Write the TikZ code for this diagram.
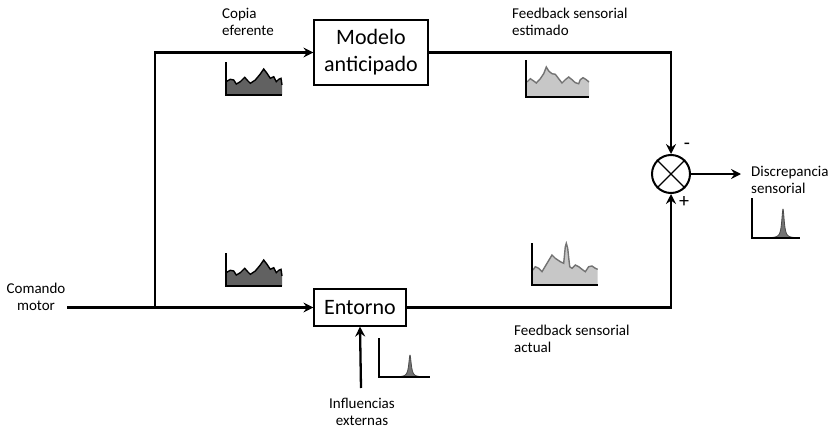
\documentclass[tikz,border=0pt]{standalone}
\usepackage{fontspec}
\setmainfont{Carlito}
\usetikzlibrary{arrows.meta}

\tikzset{
  flow/.style={line width=2.3pt, draw=black, line join=miter},
  arr/.style={flow, -{Stealth[length=10pt,width=10pt,inset=3.5pt]}},
  block/.style={draw=black, line width=1.2pt, align=center, inner sep=0pt,
                font=\fontsize{22}{27}\selectfont},
  lbl/.style={inner sep=0pt, font=\fontsize{15}{17}\selectfont},
  axisline/.style={line width=1.8pt, draw=black},
  darksig/.style={fill=black!62},
  darkedge/.style={line width=1.4pt, draw=black},
  lightsig/.style={fill=black!22},
  lightedge/.style={line width=1.4pt, draw=black!55},
  spikefill/.style={fill=black!55},
  spikeedge/.style={line width=0.8pt, draw=black!70},
  sign/.style={inner sep=0pt, font=\fontsize{20}{20}\selectfont},
}

\begin{document}
\begin{tikzpicture}[x=1pt,y=-1pt]
\useasboundingbox (0,0) rectangle (831,431);

% blocks and summing junction
\node[block, minimum width=114pt, minimum height=65pt] (modelo) at (371,52.5) {Modelo\\anticipado};
\node[block, minimum width=92pt, minimum height=37pt] (entorno) at (360,307.5) {Entorno};
\node[circle, draw=black, line width=2pt, minimum size=38pt, inner sep=0pt] (sum) at (671,174) {};
\draw[line width=1.4pt] (sum.north west) -- (sum.south east);
\draw[line width=1.4pt] (sum.north east) -- (sum.south west);

% free ends of the connectors
\coordinate (cmd) at (67,307.5);
\coordinate (split) at (155,307.5);
\coordinate (outend) at (741,174);
\coordinate (infl) at (361,388);

% signal flow
\draw[flow] (cmd) -- (split);
\draw[arr] (split) -- (entorno.west);
\draw[arr] (split) |- (modelo.west);
\draw[arr] (modelo.east) -| (sum.north);
\draw[arr] (entorno.east) -| (sum.south);
\draw[arr] (sum.east) -- (outend);
\draw[arr] (infl) -- (entorno.south);

% signs at the junction
\node[sign] (minus) at (687,146) {-};
\node[sign] (plus) at (684,202) {+};

% labels
\node[lbl, anchor=base west] (copia) at (222,19)
  {\begin{tabular}[t]{@{}l@{}}Copia\\eferente\end{tabular}};
\node[lbl, anchor=base west] (fbest) at (512,19)
  {\begin{tabular}[t]{@{}l@{}}Feedback sensorial\\estimado\end{tabular}};
\node[lbl, anchor=base] (comando) at (36,293)
  {\begin{tabular}[t]{@{}c@{}}Comando\\motor\end{tabular}};
\node[lbl, anchor=base west] (fbact) at (514,335)
  {\begin{tabular}[t]{@{}l@{}}Feedback sensorial\\actual\end{tabular}};
\node[lbl, anchor=base] (influ) at (362,408)
  {\begin{tabular}[t]{@{}c@{}}Influencias\\externas\end{tabular}};
\node[lbl, anchor=base west] (discr) at (751,176)
  {\begin{tabular}[t]{@{}l@{}}Discrepancia\\sensorial\end{tabular}};

% efference copy signal (upper left)
\begin{scope}[shift={(226,95)}, yscale=-1]
  \fill[darksig] (0,0) -- plot coordinates {(0,13.3) (4.3,15.7) (7.7,15) (10.3,11) (14.3,13.3) (18.7,17.7) (21.7,14.3) (24.3,11.7) (29.3,15) (34.3,21) (37.7,26) (41,21.7) (44.3,16.7) (47.7,18.3) (50.3,13.3) (52.7,15.7) (55,16.7) (56,10)} -- (56,0) -- cycle;
  \draw[darkedge] plot coordinates {(0,13.3) (4.3,15.7) (7.7,15) (10.3,11) (14.3,13.3) (18.7,17.7) (21.7,14.3) (24.3,11.7) (29.3,15) (34.3,21) (37.7,26) (41,21.7) (44.3,16.7) (47.7,18.3) (50.3,13.3) (52.7,15.7) (55,16.7) (56,10)};
  \draw[axisline] (0,33) -- (0,0) -- (56,0);
\end{scope}

% motor command signal (lower left)
\begin{scope}[shift={(226,286)}, yscale=-1]
  \fill[darksig] (0,0) -- plot coordinates {(0,13.3) (4.3,15.7) (7.7,15) (10.3,11) (14.3,13.3) (18.7,17.7) (21.7,14.3) (24.3,11.7) (29.3,15) (34.3,21) (37.7,26) (41,21.7) (44.3,16.7) (47.7,18.3) (50.3,13.3) (52.7,15.7) (55,16.7) (56,10)} -- (56,0) -- cycle;
  \draw[darkedge] plot coordinates {(0,13.3) (4.3,15.7) (7.7,15) (10.3,11) (14.3,13.3) (18.7,17.7) (21.7,14.3) (24.3,11.7) (29.3,15) (34.3,21) (37.7,26) (41,21.7) (44.3,16.7) (47.7,18.3) (50.3,13.3) (52.7,15.7) (55,16.7) (56,10)};
  \draw[axisline] (0,33) -- (0,0) -- (56,0);
\end{scope}

% estimated sensory feedback (upper right)
\begin{scope}[shift={(526,97)}, yscale=-1]
  \fill[lightsig] (0,0) -- plot coordinates {(1,15) (4.3,18.3) (7.7,16) (10.3,14) (14.3,18.3) (17.7,23.3) (20.3,30) (22.7,26) (26,23.3) (29.3,22.7) (32.7,18.3) (36,14) (39.3,17.3) (42.7,20) (46,17.3) (49.3,14.3) (52.7,13.3) (54.3,17.3) (57,19.3) (60.3,17.3) (63,15)} -- (63,0) -- cycle;
  \draw[lightedge] plot coordinates {(1,15) (4.3,18.3) (7.7,16) (10.3,14) (14.3,18.3) (17.7,23.3) (20.3,30) (22.7,26) (26,23.3) (29.3,22.7) (32.7,18.3) (36,14) (39.3,17.3) (42.7,20) (46,17.3) (49.3,14.3) (52.7,13.3) (54.3,17.3) (57,19.3) (60.3,17.3) (63,15)};
  \draw[axisline] (0,37) -- (0,0) -- (63,0);
\end{scope}

% actual sensory feedback (lower right)
\begin{scope}[shift={(532,285)}, yscale=-1]
  \fill[lightsig] (0,0) -- plot coordinates {(1,15) (3.3,18.3) (6.7,16.7) (10,13.3) (15,21.7) (20,30) (23.3,26.7) (28.3,23.3) (31.7,21.7) (33.3,38.3) (34.3,41.7) (35.7,36.7) (37.7,18.3) (40,16.7) (43.3,20) (46.7,18.3) (50,15.7) (53.3,13.3) (56.7,18.3) (60,19) (63.3,16.7) (65.7,15.7)} -- (65.7,0) -- cycle;
  \draw[lightedge] plot coordinates {(1,15) (3.3,18.3) (6.7,16.7) (10,13.3) (15,21.7) (20,30) (23.3,26.7) (28.3,23.3) (31.7,21.7) (33.3,38.3) (34.3,41.7) (35.7,36.7) (37.7,18.3) (40,16.7) (43.3,20) (46.7,18.3) (50,15.7) (53.3,13.3) (56.7,18.3) (60,19) (63.3,16.7) (65.7,15.7)};
  \draw[axisline] (0,42) -- (0,0) -- (65.7,0);
\end{scope}

% external influence pulse
\begin{scope}[shift={(379,377)}, yscale=-1]
  \filldraw[spikefill, spikeedge] plot[domain=18:44, samples=80] (\x,{22/(1+((\x-31)/1.5)^2)}) -- cycle;
  \draw[axisline] (0,39) -- (0,0) -- (51,0);
\end{scope}

% sensory discrepancy pulse
\begin{scope}[shift={(752,238)}, yscale=-1]
  \filldraw[spikefill, spikeedge] plot[domain=18:44, samples=80] (\x,{29/(1+((\x-31)/1.5)^2)}) -- cycle;
  \draw[axisline] (0,40) -- (0,0) -- (48,0);
\end{scope}
\end{tikzpicture}
\end{document}
